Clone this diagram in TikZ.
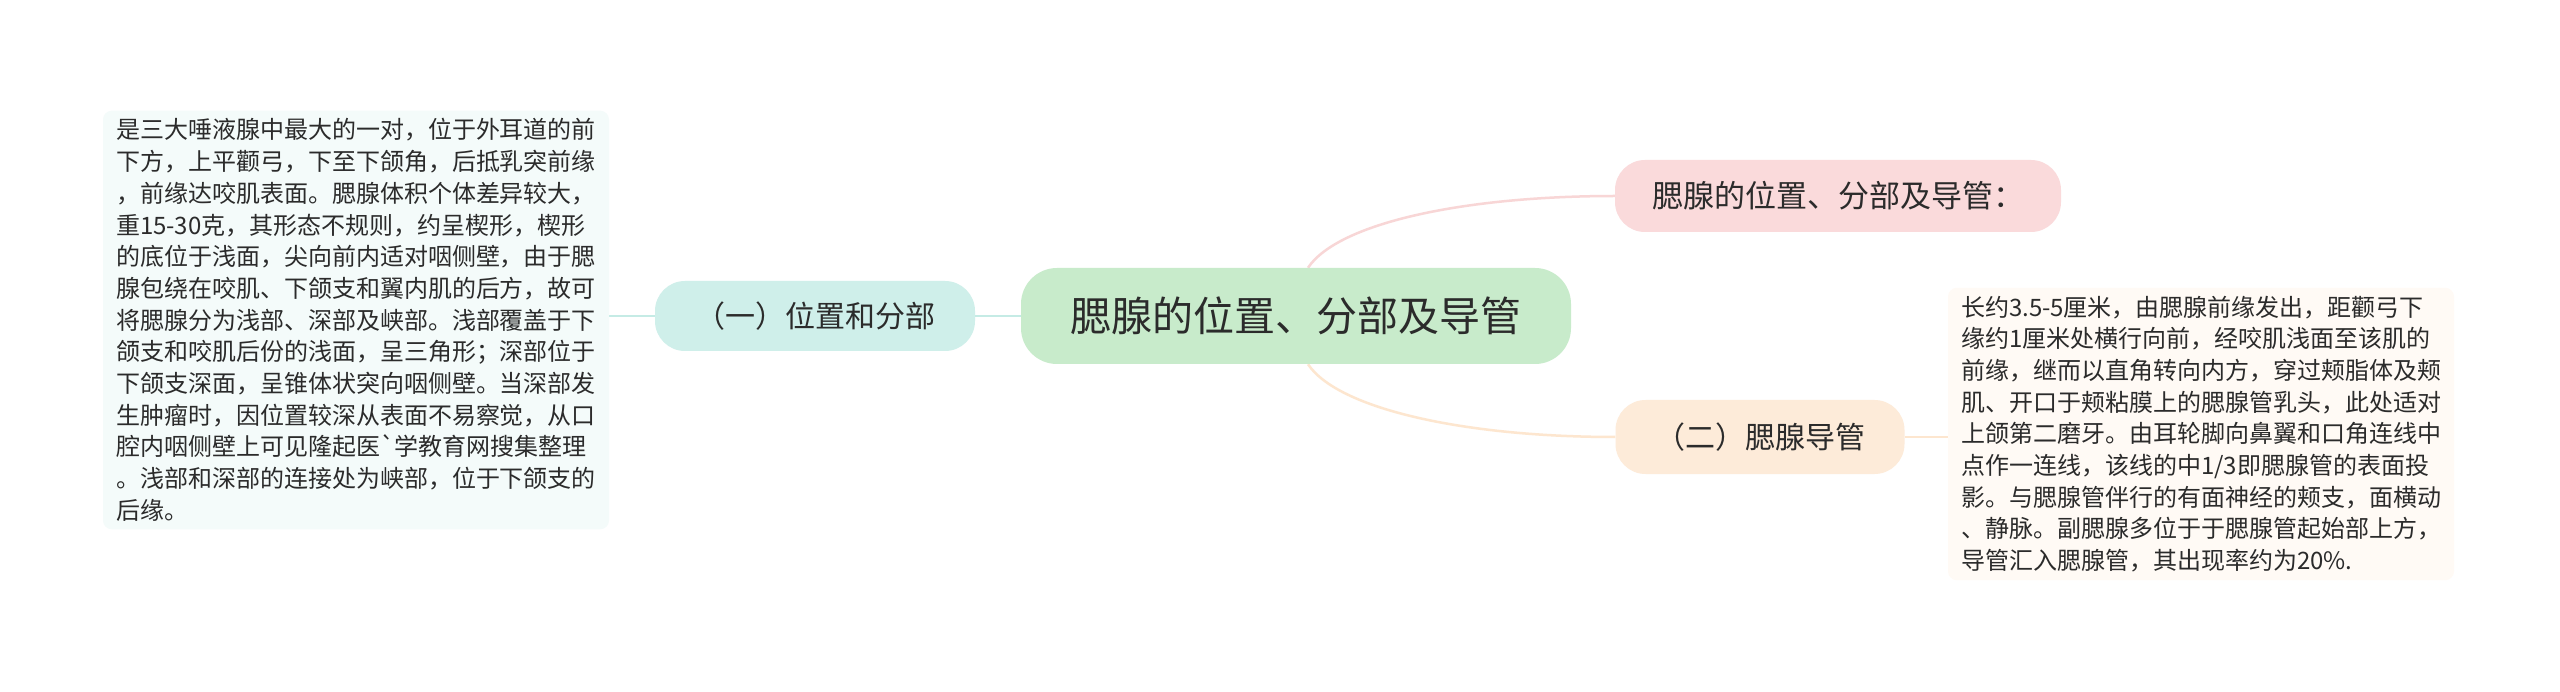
\documentclass[tikz,border=0pt]{standalone}
\usepackage{fontspec}
\newfontfamily\cjk{Noto Sans CJK SC}
\usetikzlibrary{backgrounds}
\definecolor{txt}{HTML}{2B2B2B}
\definecolor{tealfill}{HTML}{CFEFEA}
\definecolor{tealline}{HTML}{C5EBE5}
\definecolor{tealbox}{HTML}{F4FBFA}
\definecolor{greenfill}{HTML}{C8EBCB}
\definecolor{pinkfill}{HTML}{FADADB}
\definecolor{pinkline}{HTML}{F8D6D6}
\definecolor{peachfill}{HTML}{FDEBD9}
\definecolor{peachline}{HTML}{FDE6CF}
\definecolor{peachbox}{HTML}{FFFAF5}
\tikzset{
  pill/.style={rounded corners=30pt, inner sep=0pt, text=txt, font=\cjk\fontsize{30}{36}\selectfont},
  textbox/.style={rounded corners=9pt, text=txt, align=left, text width=480pt, inner xsep=13pt, inner ysep=8pt, font=\cjk\fontsize{24}{31.7}\selectfont},
  conn/.style={line width=2.5pt}
}
\begin{document}
\begin{tikzpicture}[x=1pt,y=-1pt]
\useasboundingbox (0,0) rectangle (2560,692);
\node[pill, fill=greenfill, minimum width=550pt, minimum height=96pt, rounded corners=36pt, font=\cjk\fontsize{41}{48}\selectfont] (center) at (1296,316) {腮腺的位置、分部及导管};
\node[pill, fill=tealfill, minimum width=320pt, minimum height=70pt] (left) at (815,316) {（一）位置和分部};
\node[pill, fill=pinkfill, minimum width=446pt, minimum height=72pt, font=\cjk\fontsize{31}{36}\selectfont] (topright) at (1838,196) {腮腺的位置、分部及导管：};
\node[pill, fill=peachfill, minimum width=289pt, minimum height=74pt] (botright) at (1760,437) {（二）腮腺导管};
\node[textbox, fill=tealbox] (lefttext) at (356,320) {是三大唾液腺中最大的一对，位于外耳道的前\\下方，上平颧弓，下至下颌角，后抵乳突前缘\\，前缘达咬肌表面。腮腺体积个体差异较大，\\重15-30克，其形态不规则，约呈楔形，楔形\\的底位于浅面，尖向前内适对咽侧壁，由于腮\\腺包绕在咬肌、下颌支和翼内肌的后方，故可\\将腮腺分为浅部、深部及峡部。浅部覆盖于下\\颌支和咬肌后份的浅面，呈三角形；深部位于\\下颌支深面，呈锥体状突向咽侧壁。当深部发\\生肿瘤时，因位置较深从表面不易察觉，从口\\腔内咽侧壁上可见隆起医`学教育网搜集整理\\。浅部和深部的连接处为峡部，位于下颌支的\\后缘。};
\node[textbox, fill=peachbox] (righttext) at (2201,434) {长约3.5-5厘米，由腮腺前缘发出，距颧弓下\\缘约1厘米处横行向前，经咬肌浅面至该肌的\\前缘，继而以直角转向内方，穿过颊脂体及颊\\肌、开口于颊粘膜上的腮腺管乳头，此处适对\\上颌第二磨牙。由耳轮脚向鼻翼和口角连线中\\点作一连线，该线的中1/3即腮腺管的表面投\\影。与腮腺管伴行的有面神经的颊支，面横动\\、静脉。副腮腺多位于于腮腺管起始部上方，\\导管汇入腮腺管，其出现率约为20\%.};
\begin{scope}[on background layer]
\fill[white] (0,0) rectangle (2560,692);
\draw[conn, tealline] (left.west) -- (left.west -| lefttext.east);
\draw[conn, tealline] (center.west) -- (left.east);
\draw[conn, pinkline] ([xshift=12pt]center.north) .. controls +(30,-45) and +(-150,0) .. (topright.west);
\draw[conn, peachline] ([xshift=12pt]center.south) .. controls +(30,45) and +(-150,0) .. (botright.west);
\draw[conn, peachline] (botright.east) -- (botright.east -| righttext.west);
\end{scope}
\end{tikzpicture}
\end{document}
